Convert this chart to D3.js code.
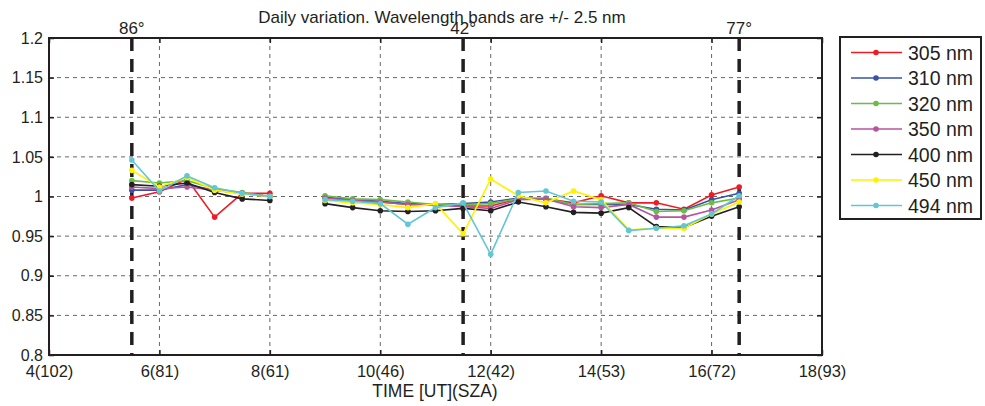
<!DOCTYPE html>
<html>
<head>
<meta charset="utf-8">
<script src="https://cdn.jsdelivr.net/npm/d3@7/dist/d3.min.js"></script>
<style>
body{margin:0;background:#fff;}
text{font-family:"Liberation Sans",Arial,sans-serif;fill:#231f20;}
</style>
</head>
<body>
<svg class="chart" width="985" height="406"></svg>
<script>
// time of day [UT], 8.5 has no data (gap in the lines)
var times = [5.5,6,6.5,7,7.5,8,8.5,9,9.5,10,10.5,11,11.5,12,12.5,13,13.5,14,14.5,15,15.5,16,16.5];

var bands = ['305 nm','310 nm','320 nm','350 nm','400 nm','450 nm','494 nm'];
var colors = ['#ed1c24','#3953a4','#6abd45','#b6559f','#231f20','#fff200','#62c6d4'];

var v305 = [0.998,1.006,1.022,0.974,1.004,1.004,null,0.999,0.995,0.993,0.990,0.990,0.988,0.988,0.997,0.997,0.992,1.001,0.992,0.992,0.984,1.002,1.012];
var v310 = [1.008,1.008,1.015,1.008,1.004,1.000,null,0.999,0.996,0.994,0.991,0.990,0.991,0.993,0.998,0.997,0.990,0.990,0.990,0.984,0.983,0.996,1.004];
var v320 = [1.020,1.017,1.020,1.010,1.005,1.000,null,1.001,0.997,0.996,0.993,0.990,0.990,0.991,0.997,0.998,0.990,0.991,0.992,0.981,0.982,0.992,0.998];
var v350 = [1.012,1.010,1.012,1.008,1.004,1.000,null,0.998,0.995,0.993,0.990,0.989,0.987,0.985,0.996,0.997,0.987,0.986,0.990,0.974,0.974,0.983,0.996];
var v400 = [1.015,1.013,1.017,1.005,0.997,0.995,null,0.991,0.986,0.982,0.981,0.982,0.985,0.982,0.993,0.987,0.980,0.979,0.986,0.962,0.961,0.975,0.987];
var v450 = [1.033,1.012,1.024,1.008,1.003,1.000,null,0.995,0.992,0.990,0.986,0.991,0.953,1.022,1.001,0.992,1.007,0.996,0.958,0.960,0.960,0.978,0.993];
var v494 = [1.046,1.007,1.026,1.011,1.004,1.000,null,0.996,0.994,0.991,0.965,0.986,0.992,0.927,1.005,1.007,0.994,0.993,0.957,0.960,0.963,0.978,1.001];
var series = [v305,v310,v320,v350,v400,v450,v494];

var xTicks = [4,6,8,10,12,14,16,18];
var xTickLabels = ['4(102)','6(81)','8(61)','10(46)','12(42)','14(53)','16(72)','18(93)'];
var yTicks = [0.8,0.85,0.9,0.95,1,1.05,1.1,1.15,1.2];

// solar zenith angle markers
var szaTimes = [5.5,11.5,16.5];
var szaLabels = ['86°','42°','77°'];

var config = {left:49, right:822, top:38, bottom:355};

var svg = d3.select('.chart');

var xScale = d3.scaleLinear().domain([4,18]).range([config.left,config.right]);
var yScale = d3.scaleLinear().domain([0.8,1.2]).range([config.bottom,config.top]);

//grid
svg.append('g').selectAll('line')
	.data(xTicks.slice(1,-1))
	.enter().append('line')
	.attr('x1',d=>xScale(d)).attr('x2',d=>xScale(d))
	.attr('y1',config.top).attr('y2',config.bottom)
	.attr('stroke','#666').attr('stroke-width',1)
	.attr('stroke-dasharray','4,4');

svg.append('g').selectAll('line')
	.data(yTicks.slice(1,-1))
	.enter().append('line')
	.attr('x1',config.left).attr('x2',config.right)
	.attr('y1',d=>yScale(d)).attr('y2',d=>yScale(d))
	.attr('stroke','#666').attr('stroke-width',1)
	.attr('stroke-dasharray','4,4');

//sza lines
svg.append('g').selectAll('line')
	.data(szaTimes)
	.enter().append('line')
	.attr('x1',d=>xScale(d)).attr('x2',d=>xScale(d))
	.attr('y1',config.top).attr('y2',config.bottom)
	.attr('stroke','#231f20').attr('stroke-width',3.5)
	.attr('stroke-dasharray','13,8');

svg.append('g').selectAll('text')
	.data(szaTimes)
	.enter().append('text')
	.attr('x',d=>xScale(d)).attr('y',34)
	.attr('text-anchor','middle')
	.style('font-size','17px')
	.text((d,i)=>szaLabels[i]);

//axes
var xAxisGen = d3.axisBottom(xScale).tickValues(xTicks).tickFormat((d,i)=>xTickLabels[i]).tickSizeInner(-5).tickSizeOuter(0).tickPadding(10);
var yAxisGen = d3.axisLeft(yScale).tickValues(yTicks).tickFormat(d3.format('')).tickSizeInner(-5).tickSizeOuter(0).tickPadding(6);

var xAxis = svg.append('g').attr('transform','translate(0,'+config.bottom+')').call(xAxisGen);
var yAxis = svg.append('g').attr('transform','translate('+config.left+',0)').call(yAxisGen);
svg.append('g').attr('transform','translate(0,'+config.top+')')
	.call(d3.axisTop(xScale).tickValues(xTicks).tickFormat('').tickSizeInner(-5).tickSizeOuter(0));
svg.append('g').attr('transform','translate('+config.right+',0)')
	.call(d3.axisRight(yScale).tickValues(yTicks).tickFormat('').tickSizeInner(-5).tickSizeOuter(0));

svg.selectAll('.domain').remove();
svg.selectAll('.tick line').attr('stroke','#231f20').attr('stroke-width',1.5);
xAxis.selectAll('text').style('font-size','16.5px').attr('fill','#231f20');
yAxis.selectAll('text').style('font-size','16px').attr('fill','#231f20');

//data
var lineGen = d3.line()
	.defined(d=>d[1]!==null)
	.x(d=>xScale(d[0]))
	.y(d=>yScale(d[1]));

var seriesGroups = svg.append('g').selectAll('g')
	.data(series)
	.enter().append('g');

seriesGroups.append('path')
	.attr('d',d=>lineGen(d.map((v,i)=>[times[i],v])))
	.attr('fill','none')
	.attr('stroke',(d,i)=>colors[i])
	.attr('stroke-width',1.6);

seriesGroups.each(function(d,i){
	d3.select(this).selectAll('circle')
		.data(d.map((v,j)=>[times[j],v]).filter(p=>p[1]!==null))
		.enter().append('circle')
		.attr('cx',p=>xScale(p[0]))
		.attr('cy',p=>yScale(p[1]))
		.attr('r',2.8)
		.attr('fill',colors[i]);
});

//frame
svg.append('rect')
	.attr('x',config.left).attr('y',config.top)
	.attr('width',config.right-config.left).attr('height',config.bottom-config.top)
	.attr('fill','none').attr('stroke','#231f20').attr('stroke-width',2);

//title
svg.append('text')
	.attr('x',442).attr('y',23)
	.attr('text-anchor','middle')
	.style('font-size','17px')
	.text('Daily variation. Wavelength bands are +/- 2.5 nm');

svg.append('text')
	.attr('x',435).attr('y',397)
	.attr('text-anchor','middle')
	.style('font-size','17.5px')
	.text('TIME [UT](SZA)');

//legend
var legend = svg.append('g');
legend.append('rect')
	.attr('x',840).attr('y',37).attr('width',141).attr('height',182)
	.attr('fill','#fff').attr('stroke','#231f20').attr('stroke-width',2);

var legendItems = legend.selectAll('g')
	.data(bands)
	.enter().append('g')
	.attr('transform',(d,i)=>'translate(0,'+(52.5+i*25.5)+')');

legendItems.append('line')
	.attr('x1',851).attr('x2',902).attr('y1',0).attr('y2',0)
	.attr('stroke',(d,i)=>colors[i]).attr('stroke-width',1.6);
legendItems.append('circle')
	.attr('cx',876).attr('cy',0).attr('r',2.8)
	.attr('fill',(d,i)=>colors[i]);
legendItems.append('text')
	.attr('x',908).attr('y',0)
	.attr('dy','0.36em')
	.style('font-size','19.5px')
	.text(d=>d);
</script>
</body>
</html>
